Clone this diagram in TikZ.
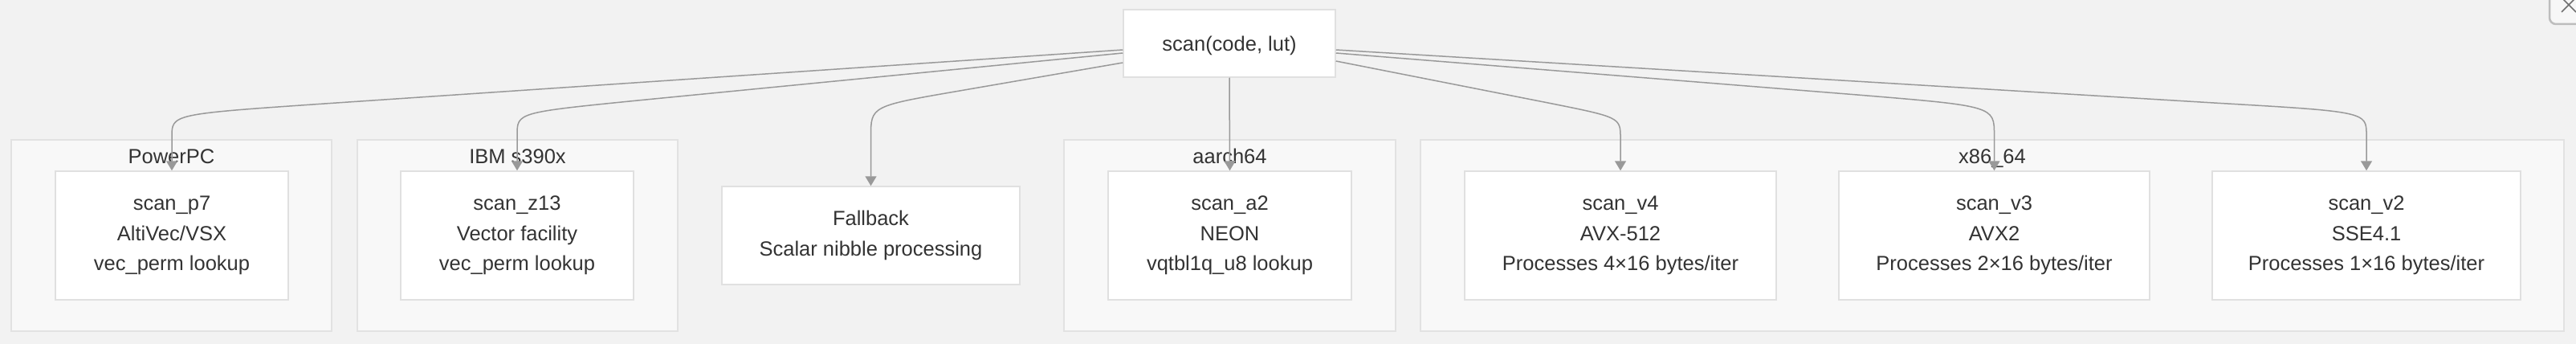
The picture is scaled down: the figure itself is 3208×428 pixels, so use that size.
\documentclass[tikz,border=0pt]{standalone}
\usepackage{fontspec}
\setmainfont{Liberation Sans}
\usetikzlibrary{arrows.meta}
\definecolor{bg}{HTML}{F2F2F2}
\definecolor{clfill}{HTML}{F8F8F8}
\definecolor{clborder}{HTML}{E2E2E2}
\definecolor{nodeborder}{HTML}{E0E0E0}
\definecolor{txt}{HTML}{333333}
\definecolor{edgec}{HTML}{999999}
\definecolor{btn}{HTML}{BDBDBD}
\begin{document}
\begin{tikzpicture}[x=1pt,y=-1pt,
  cluster/.style={draw=clborder, fill=clfill, line width=1.5pt, inner sep=0pt, minimum height=238pt},
  box/.style={draw=nodeborder, fill=white, line width=1.5pt, inner sep=0pt, align=center,
    font=\fontsize{25.5}{37.5}\selectfont, text=txt, minimum height=160pt,
    execute at begin node={\rule{0pt}{24.8pt}}},
  ctitle/.style={font=\fontsize{25.5}{30}\selectfont, text=txt, inner sep=0pt, anchor=base},
  edge/.style={draw=edgec, line width=1.5pt, -{Triangle[width=14pt,length=12pt]}}
]
\useasboundingbox (0,0) rectangle (3208,428);
\fill[bg] (0,0) rectangle (3208,428);

% close button artifact
\draw[btn, line width=2.5pt, rounded corners=8pt, fill=bg!60!white] (3175,-12) rectangle (3240,30);
\draw[txt!70, line width=1.5pt] (3190,15) -- (3206,-1) (3192,-1) -- (3208,15);

% clusters
\node[cluster, minimum width=399pt] (gpp) at (213.5,293) {};
\node[cluster, minimum width=399pt] (gibm) at (644.5,293) {};
\node[cluster, minimum width=413pt] (garm) at (1531.5,293) {};
\node[cluster, minimum width=1424pt] (gx86) at (2481,293) {};
\node[ctitle] (tpp) at (213.5,203) {PowerPC};
\node[ctitle] (tibm) at (644.5,203) {IBM s390x};
\node[ctitle] (tarm) at (1531.5,203) {aarch64};
\node[ctitle] (tx86) at (2481,203) {x86\_64};

% nodes
\node[box, minimum width=264pt, minimum height=84pt] (scan) at (1531,54) {scan(code, lut)};
\node[box, minimum width=290pt] (pp) at (214,293) {scan\_p7\\AltiVec/VSX\\vec\_perm lookup};
\node[box, minimum width=290pt] (ibm) at (644,293) {scan\_z13\\Vector facility\\vec\_perm lookup};
\node[box, minimum width=371pt, minimum height=122pt] (fb) at (1084.5,293) {Fallback\\Scalar nibble processing};
\node[box, minimum width=303pt] (a2) at (1531.5,293) {scan\_a2\\NEON\\vqtbl1q\_u8 lookup};
\node[box, minimum width=388pt] (v4) at (2018,293) {scan\_v4\\AVX-512\\Processes 4×16 bytes/iter};
\node[box, minimum width=387pt] (v3) at (2483.5,293) {scan\_v3\\AVX2\\Processes 2×16 bytes/iter};
\node[box, minimum width=384pt] (v2) at (2947,293) {scan\_v2\\SSE4.1\\Processes 1×16 bytes/iter};

% edges
\draw[edge] ([yshift=-8pt]scan.west) -- (404,129) .. controls (214,142) .. (214,170) -- (pp.north);
\draw[edge] ([yshift=-12pt]scan.west) -- (794,125) .. controls (644,140) .. (644,168) -- (ibm.north);
\draw[edge] ([yshift=-24pt]scan.west) -- (1195,113) .. controls (1084.5,132) .. (1084.5,170) -- (fb.north);
\draw[edge] (scan.south) -- (a2.north);
\draw[edge] ([yshift=-22pt]scan.east) -- (1928,128) .. controls (2018,146) .. (2018,172) -- (v4.north);
\draw[edge] ([yshift=-12pt]scan.east) -- (2313,118) .. controls (2483.5,132) .. (2483.5,168) -- (v3.north);
\draw[edge] ([yshift=-8pt]scan.east) -- (2757,128) .. controls (2947,139) .. (2947,168) -- (v2.north);
\end{tikzpicture}
\end{document}
